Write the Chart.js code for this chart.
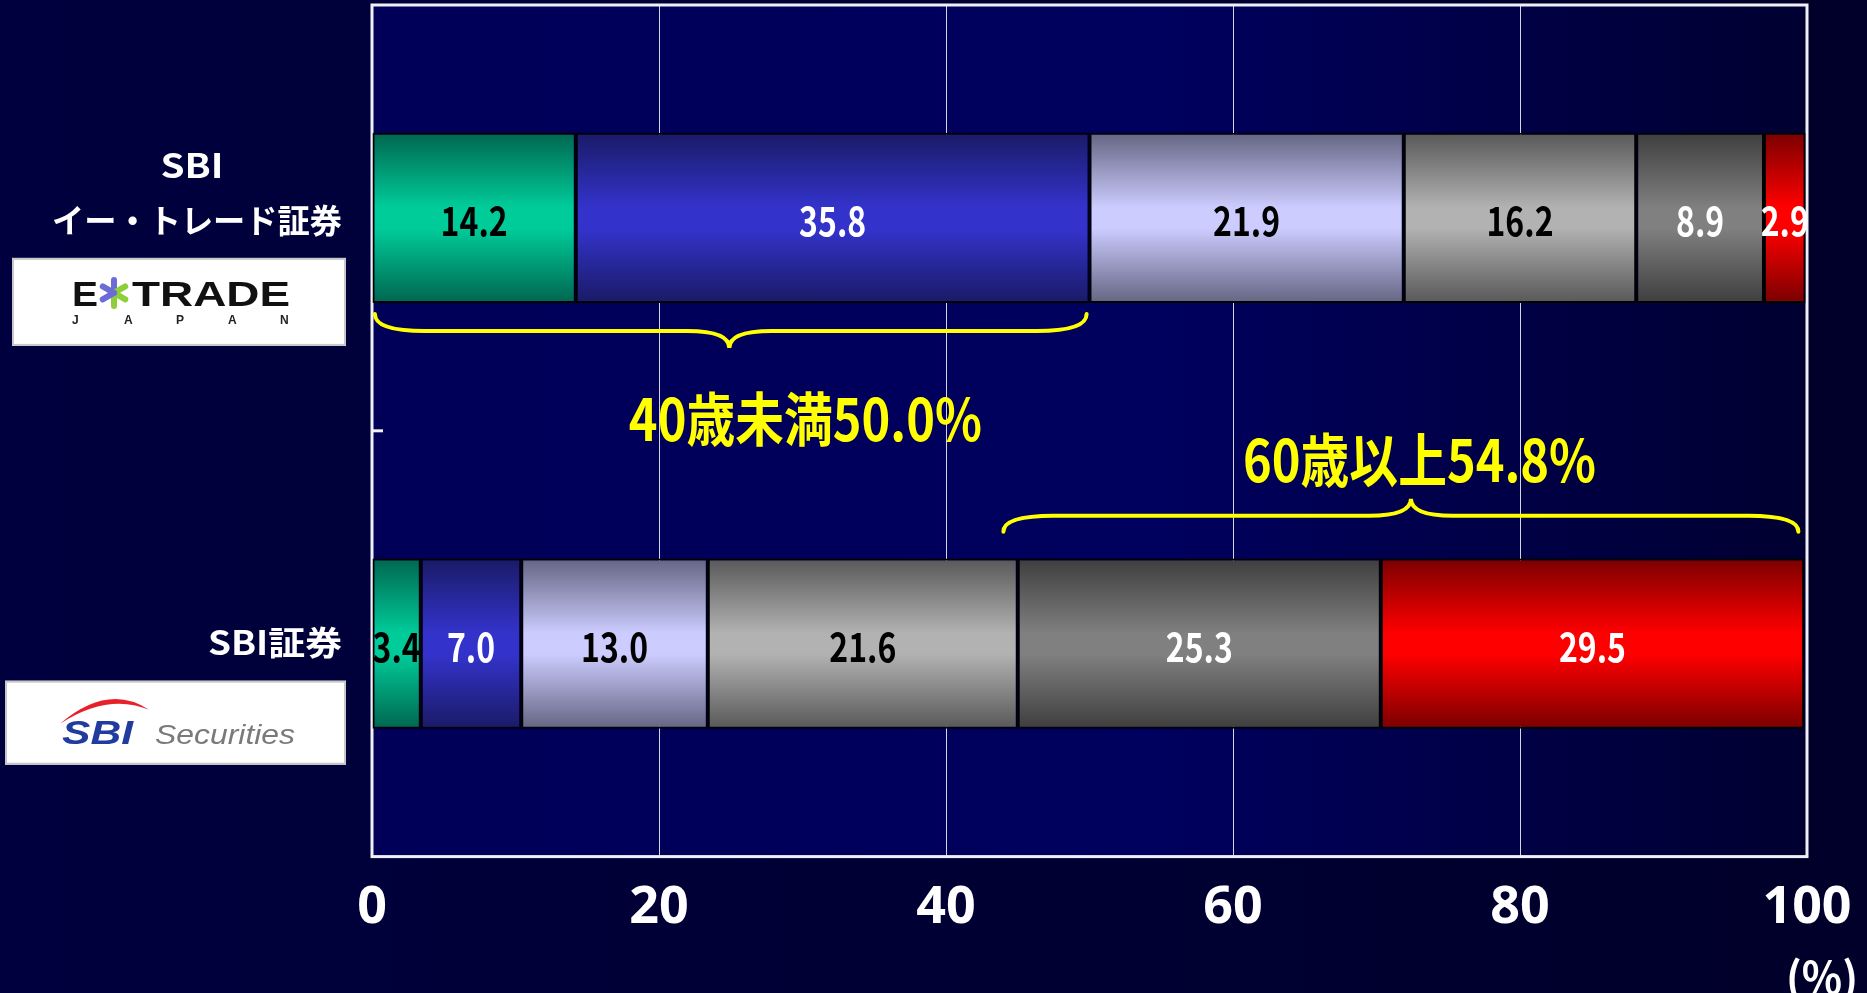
<!DOCTYPE html>
<html>
<head>
<meta charset="utf-8">
<script src="https://cdn.jsdelivr.net/npm/chart.js@4.4.0/dist/chart.umd.min.js"></script>
<style>
html, body { margin: 0; padding: 0; background: #000036; }
canvas { display: block; }
</style>
</head>
<body>
<canvas id="age-canvas" width="1867" height="993"></canvas>
<script>
// categories (one row per broker)
var companies = [['SBI', 'イー・トレード証券'], ['SBI証券']];
var ageGroups = ['30歳未満', '30歳代', '40歳代', '50歳代', '60歳代', '70歳以上'];

// share of customers by age group (%)
var etradeShare = [14.2, 35.8, 21.9, 16.2, 8.9, 2.9];
var sbiShare = [3.4, 7.0, 13.0, 21.6, 25.3, 29.5];

var xTicks = [0, 20, 40, 60, 80, 100];
var unitLabel = '(%)';

// brace annotations: [start, tip, end] on the % axis
var braceTexts = ['40歳未満50.0%', '60歳以上54.8%'];
var braceRanges = [[0.2, 24.9, 49.8], [44.0, 72.4, 99.4]];
var braceTextX = [30.2, 73.0];

var edgeColors = ['#006650', '#1a1a66', '#646482', '#585858', '#3e3e3e', '#7a0000'];
var midColors = ['#00cc99', '#3333cc', '#ccccff', '#b2b2b2', '#808080', '#ff0000'];
var textColors = ['#000', '#fff', '#000', '#000', '#fff', '#fff'];

var JP = "'Noto Sans CJK JP', sans-serif";
var TICKFONT = "'Noto Sans', 'Open Sans', 'Noto Sans CJK JP', sans-serif";

function barFill(c) {
  var chart = c.chart;
  if (!chart.chartArea || c.type !== 'data') return midColors[c.datasetIndex];
  var y = chart.scales.y;
  var mid = y.getPixelForValue(c.dataIndex);
  var half = y.height / companies.length * 0.2;
  var g = chart.ctx.createLinearGradient(0, mid - half, 0, mid + half);
  g.addColorStop(0, edgeColors[c.datasetIndex]);
  g.addColorStop(0.44, midColors[c.datasetIndex]);
  g.addColorStop(0.56, midColors[c.datasetIndex]);
  g.addColorStop(1, edgeColors[c.datasetIndex]);
  return g;
}

var datasets = [];
for (var i = 0; i < ageGroups.length; i++) {
  datasets.push({
    label: ageGroups[i],
    data: [etradeShare[i], sbiShare[i]],
    backgroundColor: barFill,
    borderColor: '#000',
    borderWidth: 2,
    borderSkipped: false,
    barPercentage: 0.4,
    categoryPercentage: 1.0
  });
}

// draw text squeezed/stretched horizontally; align = 'left' | 'center' | 'right'
function fitText(ctx, text, x, y, width, align) {
  var w = ctx.measureText(text).width;
  var left = align === 'center' ? x - width / 2 : align === 'right' ? x - width : x;
  ctx.save();
  ctx.textAlign = 'left';
  ctx.translate(left, y);
  ctx.scale(width / w, 1);
  ctx.fillText(text, 0, 0);
  ctx.restore();
}

function squeezeText(ctx, text, x, y, sx) {
  ctx.save();
  ctx.textAlign = 'center';
  ctx.translate(x, y);
  ctx.scale(sx, 1);
  ctx.fillText(text, 0, 0);
  ctx.restore();
}

function drawEtradeLogo(ctx, mid) {
  var top = mid + 40;
  ctx.fillStyle = '#fff';
  ctx.fillRect(12, top, 334, 88);
  ctx.strokeStyle = '#c8c8c8';
  ctx.lineWidth = 2;
  ctx.strokeRect(13, top + 1, 332, 86);
  ctx.fillStyle = '#111';
  ctx.textBaseline = 'alphabetic';
  ctx.font = "bold 35px 'Liberation Sans', Arial, sans-serif";
  fitText(ctx, 'E', 72, top + 48, 26, 'left');
  fitText(ctx, 'TRADE', 132, top + 48, 158, 'left');
  // star
  var sx = 114, sy = top + 35;
  ctx.lineWidth = 6;
  ctx.lineCap = 'round';
  for (var a = 0; a < 6; a++) {
    var ang = -Math.PI / 2 + a * Math.PI / 3;
    ctx.strokeStyle = (a >= 1 && a <= 3) ? '#8ccf3a' : '#6c6cd6';
    ctx.beginPath();
    ctx.moveTo(sx, sy);
    ctx.lineTo(sx + Math.cos(ang) * 13, sy + Math.sin(ang) * 13);
    ctx.stroke();
  }
  ctx.fillStyle = '#222';
  ctx.font = "bold 12px 'Liberation Sans', Arial, sans-serif";
  ctx.textAlign = 'left';
  var letters = ['J', 'A', 'P', 'A', 'N'];
  for (var k = 0; k < letters.length; k++) {
    ctx.fillText(letters[k], 72 + k * 52, top + 66);
  }
}

function drawSbiLogo(ctx, mid) {
  var top = mid + 37;
  ctx.fillStyle = '#fff';
  ctx.fillRect(5, top, 341, 84);
  ctx.strokeStyle = '#c8c8c8';
  ctx.lineWidth = 2;
  ctx.strokeRect(6, top + 1, 339, 82);
  // red swoosh
  ctx.fillStyle = '#e8202a';
  ctx.beginPath();
  ctx.moveTo(60, top + 43);
  ctx.quadraticCurveTo(108, top + 2, 149, top + 29);
  ctx.quadraticCurveTo(108, top + 12, 60, top + 43);
  ctx.fill();
  ctx.textBaseline = 'alphabetic';
  ctx.fillStyle = '#1f3c9e';
  ctx.font = "italic bold 34px 'Liberation Sans', Arial, sans-serif";
  fitText(ctx, 'SBI', 62, top + 63, 71, 'left');
  ctx.fillStyle = '#7a7a7a';
  ctx.font = "italic 28px 'Liberation Sans', Arial, sans-serif";
  fitText(ctx, 'Securities', 155, top + 63, 140, 'left');
}

function drawBrace(ctx, x1, xm, x2, yEnd, yLine, yTip) {
  var r1 = Math.min(50, (xm - x1) / 3);
  var r2 = Math.min(50, (x2 - xm) / 3);
  var rt = 42;
  ctx.beginPath();
  ctx.moveTo(x1, yEnd);
  ctx.quadraticCurveTo(x1, yLine, x1 + r1, yLine);
  ctx.lineTo(xm - rt, yLine);
  ctx.quadraticCurveTo(xm, yLine, xm, yTip);
  ctx.quadraticCurveTo(xm, yLine, xm + rt, yLine);
  ctx.lineTo(x2 - r2, yLine);
  ctx.quadraticCurveTo(x2, yLine, x2, yEnd);
  ctx.stroke();
}

var decorPlugin = {
  id: 'decor',
  beforeDraw: function(chart) {
    var ctx = chart.ctx, a = chart.chartArea;
    ctx.save();
    var bg = ctx.createLinearGradient(0, 0, chart.width, 0);
    bg.addColorStop(0, '#00003e');
    bg.addColorStop(1, '#00002a');
    ctx.fillStyle = bg;
    ctx.fillRect(0, 0, chart.width, chart.height);
    var pg = ctx.createLinearGradient(a.left, 0, a.right, 0);
    pg.addColorStop(0, '#000058');
    pg.addColorStop(0.55, '#00005e');
    pg.addColorStop(1, '#000031');
    ctx.fillStyle = pg;
    ctx.fillRect(a.left, a.top, a.right - a.left, a.bottom - a.top);
    ctx.restore();
  },
  beforeDatasetsDraw: function(chart) {
    var ctx = chart.ctx, a = chart.chartArea, y = chart.scales.y;
    ctx.save();
    ctx.strokeStyle = '#f0f0f8';
    ctx.lineWidth = 3;
    ctx.strokeRect(a.left, a.top, a.right - a.left, a.bottom - a.top);
    var sep = (y.getPixelForValue(0) + y.getPixelForValue(1)) / 2;
    ctx.beginPath();
    ctx.moveTo(a.left, sep);
    ctx.lineTo(a.left + 11, sep);
    ctx.stroke();
    ctx.restore();
  },
  afterDatasetsDraw: function(chart) {
    var ctx = chart.ctx, x = chart.scales.x, y = chart.scales.y;
    ctx.save();
    // values inside the segments
    ctx.font = 'bold 40px ' + JP;
    ctx.textBaseline = 'middle';
    chart.data.datasets.forEach(function(ds, di) {
      var meta = chart.getDatasetMeta(di);
      meta.data.forEach(function(el, j) {
        ctx.fillStyle = textColors[di];
        squeezeText(ctx, ds.data[j].toFixed(1), (el.x + el.base) / 2, el.y + 3, 0.8);
      });
    });

    // braces and their captions
    var y0 = y.getPixelForValue(0), y1 = y.getPixelForValue(1);
    ctx.strokeStyle = '#ffff00';
    ctx.lineWidth = 4;
    ctx.lineCap = 'round';
    var r = braceRanges[0];
    drawBrace(ctx, x.getPixelForValue(r[0]), x.getPixelForValue(r[1]), x.getPixelForValue(r[2]), y0 + 96, y0 + 113, y0 + 130);
    r = braceRanges[1];
    drawBrace(ctx, x.getPixelForValue(r[0]), x.getPixelForValue(r[1]), x.getPixelForValue(r[2]), y1 - 112, y1 - 128, y1 - 145);
    ctx.fillStyle = '#ffff00';
    ctx.font = 'bold 58px ' + JP;
    ctx.textBaseline = 'alphabetic';
    fitText(ctx, braceTexts[0], x.getPixelForValue(braceTextX[0]), y0 + 223, 353, 'center');
    fitText(ctx, braceTexts[1], x.getPixelForValue(braceTextX[1]), y1 - 162, 353, 'center');

    // broker names and logos
    ctx.fillStyle = '#fff';
    ctx.font = 'bold 33px ' + JP;
    fitText(ctx, companies[0][0], 192, y0 - 40, 63, 'center');
    fitText(ctx, companies[0][1], 197, y0 + 15, 290, 'center');
    fitText(ctx, companies[1][0], 342, y1 + 11, 134, 'right');
    drawEtradeLogo(ctx, y0);
    drawSbiLogo(ctx, y1);

    // unit
    ctx.fillStyle = '#fff';
    ctx.textBaseline = 'alphabetic';
    ctx.font = 'bold 44px ' + JP;
    fitText(ctx, unitLabel, 1822, 994, 72, 'center');
    ctx.restore();
  }
};

window.onload = function() {
  var ctx = document.getElementById('age-canvas').getContext('2d');
  window.ageChart = new Chart(ctx, {
    type: 'bar',
    data: { labels: companies, datasets: datasets },
    options: {
      indexAxis: 'y',
      responsive: false,
      animation: false,
      layout: { padding: { left: 372, right: 60, top: 5, bottom: 34 } },
      plugins: {
        legend: { display: false },
        tooltip: { enabled: false }
      },
      scales: {
        x: {
          stacked: true,
          min: 0,
          max: 100,
          afterBuildTicks: function(scale) {
            scale.ticks = xTicks.map(function(v) { return { value: v }; });
          },
          afterFit: function(scale) {
            scale.paddingLeft = 0;
            scale.paddingRight = 0;
          },
          ticks: {
            color: '#fff',
            padding: 20,
            maxRotation: 0,
            autoSkip: false,
            font: { family: TICKFONT, size: 52, weight: 'bold' }
          },
          grid: { color: '#d4d4e4', lineWidth: 1, drawTicks: false },
          border: { display: false }
        },
        y: { stacked: true, display: false }
      }
    },
    plugins: [decorPlugin]
  });
};
</script>
</body>
</html>
